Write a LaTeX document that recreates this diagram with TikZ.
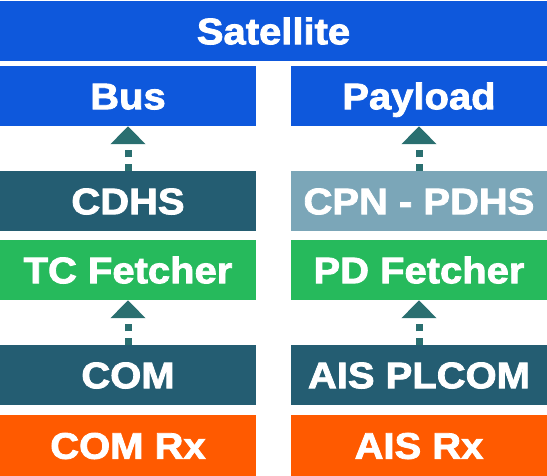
\documentclass[tikz,border=0pt]{standalone}
\usepackage{fontspec}
\setmainfont{Liberation Sans}[FakeStretch=1.08, BoldFeatures={FakeBold=2.2}]
\usetikzlibrary{arrows.meta}
\definecolor{satblue}{RGB}{14,88,220}
\definecolor{darkteal}{RGB}{36,93,114}
\definecolor{lightteal}{RGB}{123,166,184}
\definecolor{fetchgreen}{RGB}{38,186,92}
\definecolor{rxorange}{RGB}{255,90,0}
\definecolor{arrowteal}{RGB}{42,111,112}
\tikzset{
  box/.style={rectangle, inner sep=0pt, minimum width=256pt, minimum height=60pt,
    text=white, font=\fontsize{37}{41}\selectfont\bfseries,
    text height=26.5pt, text depth=0pt},
  uparrow/.style={draw=arrowteal, line width=7pt, dash pattern=on 7pt off 6.5pt,
    -{Triangle[width=34pt,length=18pt]}}
}
\begin{document}
\begin{tikzpicture}[x=1pt,y=1pt]
\useasboundingbox (0,0) rectangle (547,-476);
\node[box, fill=satblue, minimum width=547pt] (sat) at (273.5,-31) {Satellite};
\node[box, fill=satblue] (bus) at (128,-96) {Bus};
\node[box, fill=satblue] (payload) at (419,-96) {Payload};
\node[box, fill=darkteal] (cdhs) at (128,-201) {CDHS};
\node[box, fill=lightteal] (cpn) at (419,-201) {CPN - PDHS};
\node[box, fill=fetchgreen] (tcf) at (128,-270) {TC Fetcher};
\node[box, fill=fetchgreen] (pdf) at (419,-270) {PD Fetcher};
\node[box, fill=darkteal] (com) at (128,-375) {COM};
\node[box, fill=darkteal] (plcom) at (419,-375) {AIS PLCOM};
\node[box, fill=rxorange, minimum height=61pt] (comrx) at (128,-445.5) {COM Rx};
\node[box, fill=rxorange, minimum height=61pt] (aisrx) at (419,-445.5) {AIS Rx};
\draw[uparrow] (cdhs.north) -- (bus.south);
\draw[uparrow] (cpn.north) -- (payload.south);
\draw[uparrow] (com.north) -- (tcf.south);
\draw[uparrow] (plcom.north) -- (pdf.south);
\end{tikzpicture}
\end{document}
